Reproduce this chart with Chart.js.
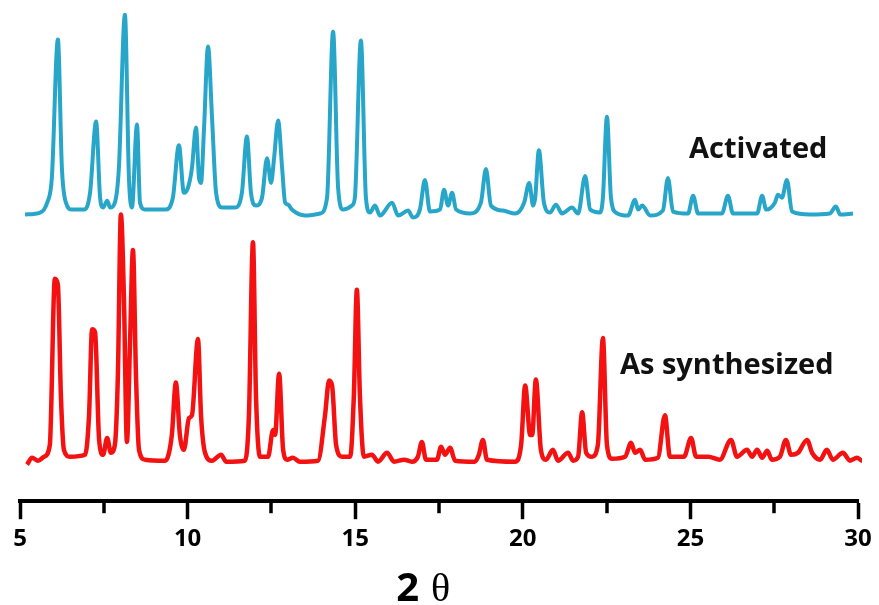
<!DOCTYPE html>
<html>
<head>
<meta charset="utf-8">
<script src="https://cdn.jsdelivr.net/npm/chart.js@4"></script>
<style>
  html, body { margin: 0; padding: 0; background: #fff; }
  #wrap { width: 879px; height: 605px; }
</style>
</head>
<body>
<div id="wrap"><canvas id="xrd" width="879" height="605"></canvas></div>
<script>
// 2theta positions and stacked intensities (a.u.)
const activatedTheta = [
  5.15, 5.6, 5.81, 5.95, 6.13, 6.25, 6.37, 6.55, 6.91, 7.09, 7.27, 7.39, 7.48, 7.6, 7.69, 7.83, 7.95, 8.13, 8.25, 8.34,
  8.49, 8.58, 8.73, 9.33, 9.56, 9.74, 9.89, 10.01, 10.13, 10.25, 10.34, 10.4, 10.49, 10.61, 10.73, 10.85, 11.03, 11.41, 11.62, 11.77,
  11.89, 12.04, 12.22, 12.37, 12.49, 12.58, 12.7, 12.82, 12.91, 13.0, 13.11, 13.5, 13.95, 14.16, 14.34, 14.49, 14.64, 14.9, 14.99, 15.17,
  15.32, 15.44, 15.59, 15.74, 16.1, 16.28, 16.58, 16.72, 16.93, 17.08, 17.23, 17.53, 17.65, 17.77, 17.89, 18.01, 18.43, 18.75, 18.9, 19.05,
  19.41, 19.77, 20.04, 20.19, 20.31, 20.37, 20.48, 20.63, 20.81, 20.99, 21.17, 21.47, 21.65, 21.86, 22.01, 22.3, 22.39, 22.51, 22.63, 22.78,
  23.14, 23.35, 23.44, 23.56, 23.8, 24.18, 24.33, 24.48, 24.93, 25.08, 25.23, 25.94, 26.12, 26.27, 26.99, 27.14, 27.26, 27.52, 27.61, 27.73,
  27.88, 28.03, 28.57, 29.16, 29.34, 29.47, 29.85
];
const activatedCounts = [
  290, 292, 302, 327, 467, 337, 302, 295, 295, 312, 384, 307, 297, 304, 297, 302, 337, 492, 327, 297,
  381, 302, 295, 295, 307, 360, 312, 317, 337, 378, 327, 322, 377, 460, 387, 312, 297, 297, 312, 369,
  312, 299, 307, 347, 322, 347, 385, 337, 302, 300, 295, 289, 291, 307, 475, 317, 295, 299, 307, 466,
  307, 292, 299, 289, 302, 289, 294, 287, 295, 325, 293, 295, 315, 299, 312, 295, 291, 302, 336, 299,
  294, 291, 302, 322, 299, 307, 355, 302, 292, 300, 291, 297, 291, 329, 295, 292, 307, 389, 307, 292,
  289, 305, 295, 299, 289, 294, 327, 293, 291, 309, 291, 291, 309, 291, 291, 309, 295, 302, 310, 307,
  325, 293, 290, 291, 298, 290, 291
];

const synthTheta = [
  5.21, 5.36, 5.54, 5.72, 5.89, 6.04, 6.13, 6.22, 6.31, 6.49, 6.94, 7.06, 7.15, 7.24, 7.36, 7.48, 7.6, 7.71, 7.83, 7.92,
  8.01, 8.1, 8.19, 8.28, 8.37, 8.46, 8.55, 8.73, 9.33, 9.53, 9.65, 9.77, 9.89, 10.04, 10.13, 10.31, 10.4, 10.52, 10.73, 11.0,
  11.15, 11.71, 11.83, 11.95, 12.04, 12.16, 12.4, 12.55, 12.61, 12.73, 12.85, 12.97, 13.14, 13.35, 13.89, 14.1, 14.22, 14.31, 14.43, 14.61,
  14.85, 14.96, 15.05, 15.14, 15.26, 15.5, 15.68, 15.95, 16.16, 16.46, 16.69, 16.87, 16.99, 17.11, 17.44, 17.56, 17.68, 17.83, 17.98, 18.57,
  18.69, 18.81, 18.93, 19.77, 19.95, 20.07, 20.22, 20.28, 20.39, 20.54, 20.69, 20.9, 21.05, 21.35, 21.5, 21.65, 21.77, 21.89, 22.06, 22.24,
  22.39, 22.51, 22.66, 23.05, 23.23, 23.35, 23.5, 23.65, 24.03, 24.24, 24.39, 24.81, 25.02, 25.17, 25.53, 25.88, 26.21, 26.39, 26.69, 26.84,
  26.99, 27.14, 27.29, 27.43, 27.67, 27.85, 28.0, 28.21, 28.48, 28.63, 28.87, 29.07, 29.25, 29.55, 29.76, 29.97, 30.12, 30.27
];
const synthCounts = [
  37, 44, 41, 45, 57, 225, 219, 107, 52, 45, 47, 87, 174, 171, 62, 47, 64, 49, 57, 127,
  290, 207, 60, 157, 254, 127, 52, 42, 41, 67, 120, 67, 52, 84, 87, 164, 87, 49, 41, 47,
  40, 41, 87, 262, 107, 45, 45, 72, 67, 129, 52, 42, 44, 40, 41, 87, 122, 117, 57, 45,
  45, 107, 214, 107, 45, 47, 40, 49, 40, 42, 40, 45, 60, 42, 42, 55, 47, 54, 41, 40,
  47, 62, 42, 40, 57, 117, 67, 67, 123, 52, 42, 52, 41, 49, 41, 45, 90, 49, 45, 57,
  165, 57, 43, 45, 59, 49, 52, 42, 44, 87, 45, 45, 64, 45, 45, 42, 62, 45, 52, 45,
  52, 44, 51, 42, 45, 62, 47, 49, 62, 49, 42, 52, 42, 49, 41, 44, 41, 44
];

const seriesLabels = ["Activated", "As synthesized"];
const xTicks = [5, 10, 15, 20, 25, 30];
const minorTicks = [7.5, 12.5, 17.5, 22.5, 27.5];

const toPoints = (xs, ys) => xs.map((x, i) => ({ x: x, y: ys[i] }));

// minor ticks, trace labels and the 2θ title
const decorations = {
  id: "decorations",
  afterDraw(chart) {
    const ctx = chart.ctx;
    const xs = chart.scales.x;
    const bottom = chart.chartArea.bottom;
    ctx.save();
    ctx.strokeStyle = "#000";
    ctx.lineWidth = 3.5;
    minorTicks.forEach((v) => {
      const px = Math.round(xs.getPixelForValue(v));
      ctx.beginPath();
      ctx.moveTo(px, bottom);
      ctx.lineTo(px, bottom + 12);
      ctx.stroke();
    });

    ctx.fillStyle = "#111";
    ctx.textBaseline = "alphabetic";
    ctx.textAlign = "left";
    ctx.font = "bold 29px 'Open Sans'";
    ctx.fillText(seriesLabels[0], 689, 158);
    ctx.fillText(seriesLabels[1], 620, 374);

    ctx.fillStyle = "#000";
    ctx.font = "bold 40px 'Open Sans'";
    ctx.textAlign = "right";
    ctx.fillText("2", 419, 601);
    ctx.font = "40px 'Liberation Serif'";
    ctx.textAlign = "left";
    ctx.fillText("θ", 431, 601);
    ctx.restore();
  },
};

new Chart(document.getElementById("xrd"), {
  type: "line",
  data: {
    datasets: [
      {
        label: seriesLabels[0],
        data: toPoints(activatedTheta, activatedCounts),
        borderColor: "#27a6c9",
        borderWidth: 4,
        pointRadius: 0,
        cubicInterpolationMode: "monotone",
        clip: false,
      },
      {
        label: seriesLabels[1],
        data: toPoints(synthTheta, synthCounts),
        borderColor: "#f41111",
        borderWidth: 4.5,
        pointRadius: 0,
        cubicInterpolationMode: "monotone",
        clip: false,
      },
    ],
  },
  options: {
    responsive: false,
    animation: false,
    layout: { padding: { left: 20, right: 21, top: 0, bottom: 45 } },
    plugins: {
      legend: { display: false },
      tooltip: { enabled: false },
    },
    scales: {
      x: {
        type: "linear",
        min: 5,
        max: 30,
        afterBuildTicks: (scale) => {
          scale.ticks = xTicks.map((v) => ({ value: v }));
        },
        border: { display: true, color: "#000", width: 4 },
        grid: {
          drawOnChartArea: false,
          drawTicks: true,
          tickLength: 18,
          tickWidth: 3.5,
          tickColor: "#000",
        },
        ticks: {
          color: "#000",
          padding: 6,
          maxRotation: 0,
          font: { family: "'Open Sans'", weight: "bold", size: 24 },
        },
      },
      y: {
        display: false,
        min: 0,
        max: 507,
      },
    },
  },
  plugins: [decorations],
});
</script>
</body>
</html>
